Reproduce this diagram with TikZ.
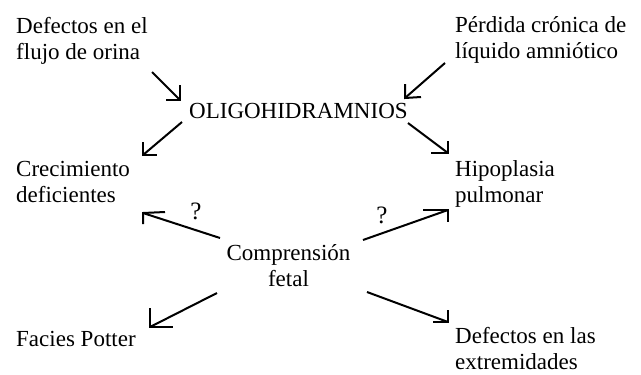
\documentclass[tikz,border=0pt]{standalone}
\usepackage{fontspec}
\setmainfont{Liberation Serif}
\begin{document}
\begin{tikzpicture}[x=1pt,y=-1pt,
  txt/.style={inner sep=0pt, anchor=north west, align=left,
    font=\fontsize{23}{26.5}\selectfont},
  ctxt/.style={txt, anchor=north, align=center},
  qmark/.style={inner sep=0pt, font=\fontsize{25}{28}\selectfont},
  arr/.style={line width=2pt, line join=miter, black}]
\useasboundingbox (0,0) rectangle (641,375);
% text nodes (north west = baseline - strut height)
\node[txt] (def) at (16,14.4) {\strut Defectos en el\\flujo de orina};
\node[txt] (per) at (455,13.4) {\strut Pérdida crónica de\\líquido amniótico};
\node[txt] (oli) at (189,99.4) {\strut OLIGOHIDRAMNIOS};
\node[txt] (cre) at (16,157.4) {\strut Crecimiento\\deficientes};
\node[txt] (hip) at (455,157.4) {\strut Hipoplasia\\pulmonar};
\node[ctxt] (com) at (288.5,241.4) {\strut Comprensión\\fetal};
\node[txt] (fac) at (16,327.4) {\strut Facies Potter};
\node[txt] (ext) at (455,324.4) {\strut Defectos en las\\extremidades};
\node[qmark] (q1) at (196,211) {?};
\node[qmark] (q2) at (382,215) {?};
% connectors
\draw[arr] ([shift={(136,57.6)}]def.north west) -- ([shift={(-9,0.6)}]oli.north west) coordinate (t1);
\draw[arr] ([shift={(-14,0)}]t1) -- (t1) -- ++(0,-15);
\draw[arr] ([shift={(-7,22.6)}]oli.north west) -- ([shift={(127,-2.4)}]cre.north west) coordinate (t2);
\draw[arr] ([shift={(0,-13)}]t2) -- (t2) -- ++(14,0);
\draw[arr] ([shift={(-10,49.6)}]per.north west) -- ([shift={(216,-1.4)}]oli.north west) coordinate (t3);
\draw[arr] ([shift={(0,-14)}]t3) -- (t3) -- ++(16,-1);
\draw[arr] ([shift={(219,23.6)}]oli.north west) -- ([shift={(-7,-4.4)}]hip.north west) coordinate (t4);
\draw[arr] ([shift={(-17,0)}]t4) -- (t4) -- ++(0,-12);
\draw[arr] ([shift={(-68.5,-3.4)}]com.north) -- ([shift={(127,55.6)}]cre.north west) coordinate (t5);
\draw[arr] ([shift={(22,-1)}]t5) -- (t5) -- ++(0,11);
\draw[arr] ([shift={(-71.5,51.6)}]com.north) -- ([shift={(134,-0.4)}]fac.north west) coordinate (t6);
\draw[arr] ([shift={(0,-19)}]t6) -- (t6) -- ++(23,0);
\draw[arr] ([shift={(74.5,-1.4)}]com.north) -- ([shift={(-7,52.6)}]hip.north west) coordinate (t7);
\draw[arr] ([shift={(-25,0)}]t7) -- (t7) -- ++(0,12);
\draw[arr] ([shift={(78.5,50.6)}]com.north) -- ([shift={(-7,-2.4)}]ext.north west) coordinate (t8);
\draw[arr] ([shift={(-15,0)}]t8) -- (t8) -- ++(0,-12);
\end{tikzpicture}
\end{document}
